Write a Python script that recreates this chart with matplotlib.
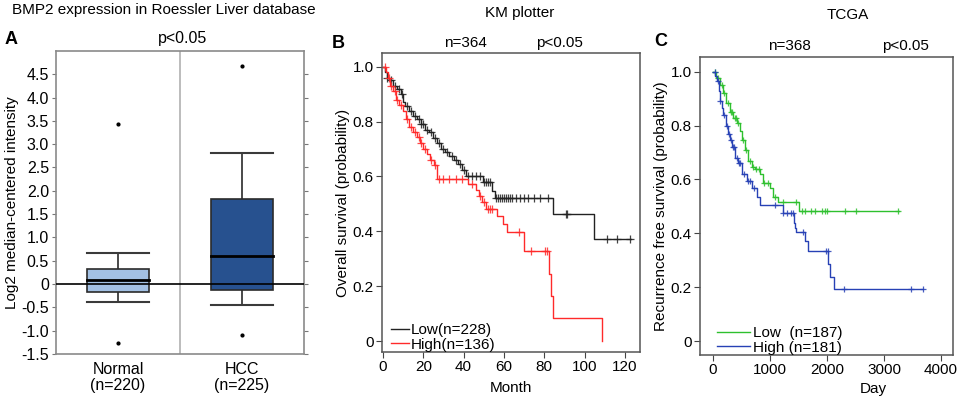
import numpy as np
import matplotlib
matplotlib.use('Agg')
import matplotlib.pyplot as plt

plt.rcParams['font.family'] = ['Liberation Sans', 'DejaVu Sans']

# Panel A: box plot summary values
groups = ['Normal\n(n=220)', 'HCC\n(n=225)']
box_q1 = [-0.18, -0.12]
box_med = [0.08, 0.61]
box_q3 = [0.32, 1.82]
wh_lo = [-0.38, -0.45]
wh_hi = [0.66, 2.82]
outliers = [[3.44, -1.26], [4.67, -1.09]]
box_colors = ['#a3c1e4', '#27518f']
a_yticks = [-1.5, -1.0, -0.5, 0, 0.5, 1.0, 1.5, 2.0, 2.5, 3.0, 3.5, 4.0, 4.5]
a_yticklabels = ['-1.5', '-1.0', '-0.5', '0', '0.5', '1.0', '1.5', '2.0', '2.5', '3.0', '3.5', '4.0', '4.5']

# Panel B: KM plotter, overall survival (months)
b_low_t = [0, 1, 2, 3, 5, 7, 9, 10, 11, 13, 15, 17, 19, 21, 23, 25, 27, 29, 31, 33, 35, 37, 39, 41,
           49.5, 54, 55.5, 84.5, 104.5, 123]
b_low_s = [1.0, 0.98, 0.96, 0.95, 0.93, 0.92, 0.90, 0.87, 0.855, 0.84, 0.82, 0.81, 0.79, 0.77, 0.76,
           0.74, 0.72, 0.70, 0.69, 0.675, 0.66, 0.645, 0.625, 0.60, 0.578, 0.546, 0.52, 0.462, 0.371, 0.371]
b_low_cens = [2, 4, 6, 8, 9.5, 12, 14, 16, 18, 19, 20, 22, 24, 26, 28, 30, 32, 34, 36, 38, 40, 42, 44,
              46, 48, 50, 51, 52, 53, 56, 57, 58, 59, 60, 61, 62, 63, 64, 66, 68, 70, 72, 75, 78, 82,
              91, 91.5, 111, 116, 122.5]
b_high_t = [0, 1.5, 2.5, 3.5, 5, 6.5, 8, 10, 11.5, 13, 15, 17, 18.5, 20, 22, 23.5, 25.5, 27, 42, 46,
            47.5, 49, 51, 56.5, 59.5, 61.5, 70, 82.5, 83.5, 84.5, 108.7]
b_high_s = [1.0, 0.98, 0.96, 0.93, 0.91, 0.88, 0.86, 0.84, 0.81, 0.78, 0.76, 0.745, 0.72, 0.70, 0.68,
            0.66, 0.64, 0.59, 0.571, 0.55, 0.527, 0.505, 0.48, 0.455, 0.425, 0.397, 0.327, 0.244,
            0.164, 0.084, 0.0]
b_high_cens = [1, 3, 4, 6, 7, 9, 12, 14, 16, 18, 19, 21, 24, 26, 28, 30, 33, 36, 39, 44, 48, 50, 52,
               53, 54, 67.5, 73.5, 80.5, 81.5]

# Panel C: TCGA, recurrence free survival (days)
c_low_t = [0, 60, 120, 175, 230, 300, 350, 420, 474, 500, 560, 615, 680, 740, 825, 880, 1000, 1050,
           1140, 1510, 3260]
c_low_s = [1.0, 0.975, 0.95, 0.92, 0.885, 0.85, 0.83, 0.81, 0.78, 0.745, 0.71, 0.67, 0.645, 0.64,
           0.62, 0.585, 0.567, 0.533, 0.515, 0.481, 0.481]
c_low_cens = [40, 90, 150, 200, 260, 320, 340, 380, 400, 440, 520, 580, 640, 700, 760, 800, 900, 960,
              1080, 1230, 1450, 1560, 1610, 1720, 1790, 1910, 1960, 2000, 2320, 2510, 3250]
c_high_t = [0, 40, 70, 100, 123, 150, 175, 220, 263, 300, 333, 386, 440, 509, 596, 684, 772, 825,
            1230, 1420, 1440, 1456, 1610, 1670, 2020, 2050, 2120, 3680]
c_high_s = [1.0, 0.985, 0.967, 0.93, 0.89, 0.865, 0.84, 0.80, 0.77, 0.745, 0.72, 0.68, 0.66, 0.62,
            0.596, 0.57, 0.533, 0.504, 0.474, 0.44, 0.42, 0.404, 0.37, 0.333, 0.285, 0.237, 0.193, 0.193]
c_high_cens = [30, 80, 130, 190, 240, 280, 310, 350, 370, 420, 460, 480, 540, 620, 650, 720, 1080,
               1230, 1300, 1360, 1410, 1580, 1990, 2010, 2300, 3480, 3680]


def surv_at(t, s, times):
	# survival value of a step curve at the given times
	idx = np.searchsorted(t, times, side='right') - 1
	return np.asarray(s)[idx]


def km(ax, t, s, cens, color, label, ms):
	ax.step(t, s, where='post', color=color, lw=1.0, label=label)
	ax.plot(cens, surv_at(t, s, cens), '+', color=color, ms=ms, mew=0.9, alpha=0.85)


fig = plt.figure(figsize=(9.59, 3.98), dpi=100)

#---------- A
axA = fig.add_axes([0.0584, 0.1106, 0.2586, 0.7614])
pos = np.arange(1, len(groups) + 1)
w = 0.5
for i, p in enumerate(pos):
	axA.add_patch(plt.Rectangle((p - w/2, box_q1[i]), w, box_q3[i] - box_q1[i],
		facecolor=box_colors[i], edgecolor='#2b2b2b', lw=1.2, zorder=3))
	axA.plot([p - w/2, p + w/2], [box_med[i]] * 2, color='black', lw=2, zorder=4)
	axA.plot([p, p], [box_q3[i], wh_hi[i]], color='#3a3a3a', lw=1.3, zorder=2)
	axA.plot([p, p], [wh_lo[i], box_q1[i]], color='#3a3a3a', lw=1.3, zorder=2)
	axA.plot([p - w/2, p + w/2], [wh_hi[i]] * 2, color='#3a3a3a', lw=1.5, zorder=2)
	axA.plot([p - w/2, p + w/2], [wh_lo[i]] * 2, color='#3a3a3a', lw=1.5, zorder=2)
	axA.plot([p] * len(outliers[i]), outliers[i], 'o', color='black', ms=2, zorder=4)
axA.axhline(0, color='black', lw=1.2, zorder=5)
axA.axvline(1.5, color='#b0b0b0', lw=1.2, zorder=1)
axA.set_xlim(0.5, 2.5)
axA.set_ylim(-1.5, 5.0)
axA.set_yticks(a_yticks)
axA.set_yticklabels(a_yticklabels, fontsize=11.5)
axA.set_xticks(pos)
axA.set_xticklabels(groups, fontsize=11.5, linespacing=1.05)
axA.tick_params(axis='x', length=0, pad=6)
axA.tick_params(axis='y', length=3, color='#777777', right=True, direction='out', pad=2)
for sp in axA.spines.values():
	sp.set_color('#8a8a8a')
	sp.set_linewidth(1.2)
axA.set_ylabel('Log2 median-centered intensity', fontsize=11, labelpad=2)

#---------- B
axB = fig.add_axes([0.3983, 0.1156, 0.2690, 0.7514])
km(axB, b_low_t, b_low_s, b_low_cens, '#222222', 'Low(n=228)', 6)
km(axB, b_high_t, b_high_s, b_high_cens, '#ff2a2a', 'High(n=136)', 6)
axB.set_xlim(-0.5, 127.5)
axB.set_ylim(-0.04, 1.05)
axB.set_xticks([0, 20, 40, 60, 80, 100, 120])
axB.set_yticks([0, 0.2, 0.4, 0.6, 0.8, 1.0])
axB.set_yticklabels(['0', '0.2', '0.4', '0.6', '0.8', '1.0'])
axB.tick_params(labelsize=11, length=4, color='#444444', pad=2)
for sp in axB.spines.values():
	sp.set_color('#555555')
	sp.set_linewidth(1.1)
axB.set_ylabel('Overall survival (probability)', fontsize=11, labelpad=2)
axB.set_xlabel('Month', fontsize=11, labelpad=5)
axB.legend(loc='lower left', bbox_to_anchor=(0.0, -0.03), frameon=False, fontsize=11,
	handlelength=1.2, handletextpad=0.1, labelspacing=0.05, borderaxespad=0.2)

#---------- C
axC = fig.add_axes([0.7299, 0.108, 0.2638, 0.749])
km(axC, c_low_t, c_low_s, c_low_cens, '#2ec02e', 'Low  (n=187)', 5)
km(axC, c_high_t, c_high_s, c_high_cens, '#2741b5', 'High (n=181)', 5)
axC.set_xlim(-230, 4210)
axC.set_ylim(-0.052, 1.055)
axC.set_xticks([0, 1000, 2000, 3000, 4000])
axC.set_yticks([0, 0.2, 0.4, 0.6, 0.8, 1.0])
axC.set_yticklabels(['0', '0.2', '0.4', '0.6', '0.8', '1.0'])
axC.tick_params(labelsize=11, length=4, color='#444444', pad=2)
for sp in axC.spines.values():
	sp.set_color('#555555')
	sp.set_linewidth(1.1)
axC.set_ylabel('Recurrence free survival (probability)', fontsize=11, labelpad=2)
axC.legend(loc='lower left', bbox_to_anchor=(0.03, -0.03), frameon=False, fontsize=11,
	handlelength=2.2, handletextpad=0.2, labelspacing=0.05, borderaxespad=0.2)

#---------- texts
def ftxt(x, y, s, **kw):
	fig.text(x / 959, 1 - y / 398, s, va='center', **kw)

ftxt(12, 10, 'BMP2 expression in Roessler Liver database', fontsize=11, ha='left')
ftxt(5, 40, 'A', fontsize=13, fontweight='bold', ha='left')
ftxt(183, 39, 'p<0.05', fontsize=11.5, ha='center')
ftxt(520, 13, 'KM plotter', fontsize=11, ha='center')
ftxt(332, 43, 'B', fontsize=13, fontweight='bold', ha='left')
ftxt(465, 43, 'n=364', fontsize=11, ha='center')
ftxt(559, 43, 'p<0.05', fontsize=11, ha='center')
ftxt(848, 15, 'TCGA', fontsize=11, ha='center')
ftxt(654, 42, 'C', fontsize=13, fontweight='bold', ha='left')
ftxt(789, 46, 'n=368', fontsize=11, ha='center')
ftxt(905, 46, 'p<0.05', fontsize=11, ha='center')
ftxt(873, 389, 'Day', fontsize=11, ha='center')

fig.savefig('out.png', dpi=100)
